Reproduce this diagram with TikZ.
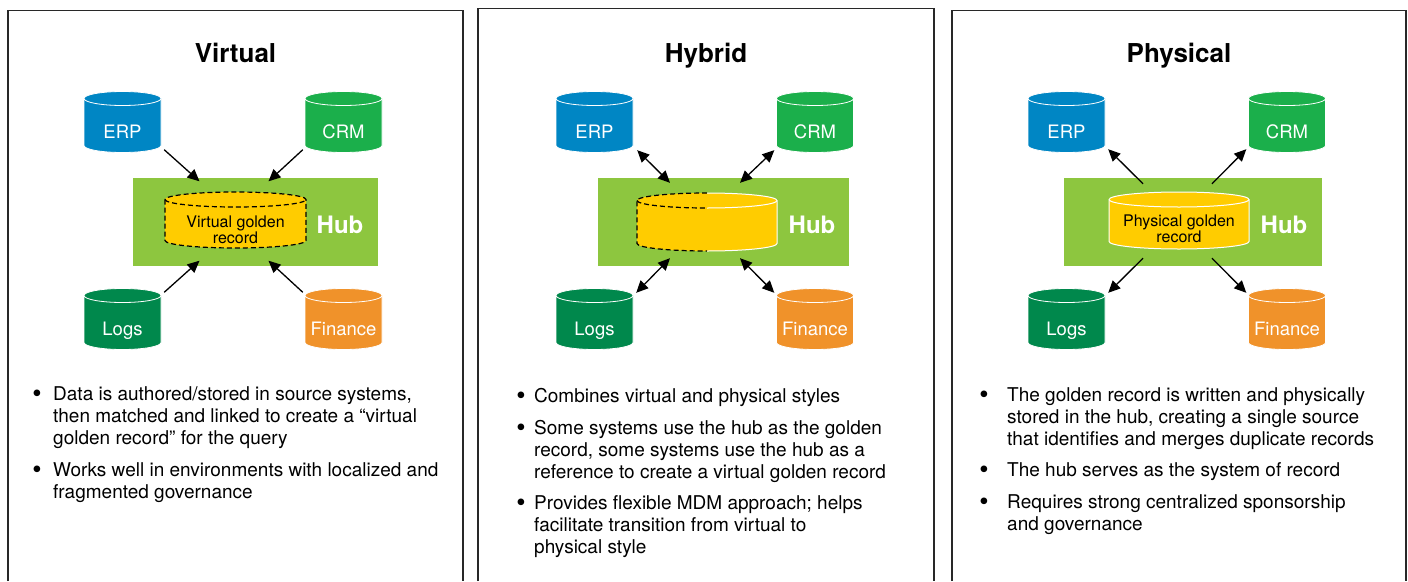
\documentclass[tikz,border=0pt]{standalone}
\usepackage{fontspec}
\setmainfont{TeX Gyre Heros}
\usetikzlibrary{arrows.meta,calc}
\definecolor{erpblue}{RGB}{0,134,196}
\definecolor{crmgreen}{RGB}{27,175,75}
\definecolor{logsgreen}{RGB}{0,136,76}
\definecolor{finorange}{RGB}{240,146,42}
\definecolor{goldc}{RGB}{255,204,0}
\definecolor{hubgreen}{RGB}{141,198,63}
\definecolor{framec}{RGB}{40,40,40}
% silhouette of an upright cylinder: cx, cy, half width, half height, ellipse radius
\newcommand\cylsil[5]{(#1-#3,#2-#4+#5) -- (#1-#3,#2+#4-#5) arc[start angle=180,end angle=360,x radius=#3pt,y radius=#5pt] -- (#1+#3,#2-#4+#5) arc[start angle=0,end angle=180,x radius=#3pt,y radius=#5pt] -- cycle}
\newcommand\srcdb[5]{%
  \path[fill=#4,draw=white,line width=0.8pt] \cylsil{#2}{#3}{38.5}{30.5}{7};
  \draw[white,line width=0.8pt] (#2-38.5,#3-23.5) arc[start angle=180,end angle=360,x radius=38.5pt,y radius=7pt];
  \node[src] (#1) at (#2,#3) {#5};}
\newcommand\bdot[1]{\llap{\raisebox{-2pt}{\scalebox{1.4}{\textbullet}}\hspace{#1}}\rule{0pt}{15pt}}
\tikzset{
  panel/.style={draw=framec,line width=1.3pt},
  title/.style={anchor=base,font=\fontsize{26}{30}\selectfont\bfseries},
  src/.style={rectangle,inner sep=0pt,minimum width=77pt,minimum height=61pt,text=white,
    font=\fontsize{18.5}{20}\selectfont,text height=33pt,text depth=0pt},
  hubbox/.style={rectangle,fill=hubgreen,inner sep=0pt,minimum height=88pt},
  hublbl/.style={text=white,inner sep=0pt,text depth=0pt,font=\fontsize{24}{28}\selectfont\bfseries},
  goldbox/.style={rectangle,inner sep=0pt,minimum width=140pt,minimum height=57pt},
  goldtxt/.style={align=center,inner sep=0pt,font=\fontsize{16}{15.5}\selectfont},
  dsh/.style={draw=black,line width=1.2pt,dash pattern=on 5pt off 3pt},
  wline/.style={draw=white,line width=1pt},
  arr/.style={line width=1.3pt,-{Triangle[length=12pt,width=11pt]}},
  arrb/.style={line width=1.3pt,{Triangle[length=12pt,width=11pt]}-{Triangle[length=12pt,width=11pt]}},
  bul/.style={anchor=north west,align=left,inner sep=0pt,font=\fontsize{19}{22}\selectfont},
}
\begin{document}
\begin{tikzpicture}[x=1pt,y=-1pt]
\useasboundingbox (0,0) rectangle (1408,581);
% panel frames
\draw[panel] (8,581) |- (463,10.5) -- (463,581);
\draw[panel] (478,581) |- (934,8.5) -- (934,581);
\draw[panel] (952,581) |- (1406,10.5) -- (1406,581);
% titles
\node[title] (t1) at (235.5,62) {Virtual};
\node[title] (t2) at (706,62) {Hybrid};
\node[title] (t3) at (1179,62) {Physical};

% ===== Panel 1 =====
\node[hubbox,minimum width=245pt] (hub1) at (255.5,222) {};
\node[hublbl] (h1) at (340,225) {Hub};
\path[fill=goldc] \cylsil{235.5}{220}{70.5}{28}{7.5};
\draw[dsh] \cylsil{235.5}{220}{70.5}{28}{7.5};
\draw[dsh] (165,199.5) arc[start angle=180,end angle=360,x radius=70.5pt,y radius=7.5pt];
\node[goldbox] (g1) at (235.5,220) {};
\node[goldtxt] (g1t) at (235.5,230) {Virtual golden\\record};
\srcdb{erp1}{122.5}{122}{erpblue}{ERP}
\srcdb{crm1}{343.5}{122}{crmgreen}{CRM}
\srcdb{logs1}{122.5}{319}{logsgreen}{Logs}
\srcdb{fin1}{343.5}{319}{finorange}{Finance}
\draw[arr] ([shift={(3,-3)}]erp1.south east) -- ([shift={(-36,-10)}]g1.north);
\draw[arr] ([shift={(-2,-3)}]crm1.south west) -- ([shift={(33,-10)}]g1.north);
\draw[arr] ([shift={(3,4)}]logs1.north east) -- ([shift={(-36,12)}]g1.south);
\draw[arr] ([shift={(-2,4)}]fin1.north west) -- ([shift={(33,12)}]g1.south);
\node[bul] (b11) at (53,385) {\bdot{11.5pt}Data is authored/stored in source systems,\\then matched and linked to create a “virtual\\golden record” for the query};
\node[bul] (b12) at (53,461) {\bdot{11.5pt}Works well in environments with localized and\\fragmented governance};

% ===== Panel 2 =====
\node[hubbox,minimum width=251pt] (hub2) at (723.5,222) {};
\node[hublbl] (h2) at (812,225) {Hub};
\path[fill=goldc] \cylsil{707}{222}{70}{29}{7.5};
\draw[dsh] (707,193) arc[start angle=90,end angle=180,x radius=70pt,y radius=7.5pt] -- (637,243.5) arc[start angle=180,end angle=270,x radius=70pt,y radius=7.5pt];
\draw[dsh] (637,200.5) arc[start angle=180,end angle=270,x radius=70pt,y radius=7.5pt];
\draw[wline] (707,193) arc[start angle=90,end angle=0,x radius=70pt,y radius=7.5pt] -- (777,243.5) arc[start angle=0,end angle=-90,x radius=70pt,y radius=7.5pt];
\draw[wline] (777,200.5) arc[start angle=0,end angle=-90,x radius=70pt,y radius=7.5pt];
\node[goldbox,minimum height=58pt] (g2) at (707,222) {};
\srcdb{erp2}{594.5}{122}{erpblue}{ERP}
\srcdb{crm2}{815}{122}{crmgreen}{CRM}
\srcdb{logs2}{594.5}{319}{logsgreen}{Logs}
\srcdb{fin2}{815}{319}{finorange}{Finance}
\draw[arrb] ([shift={(4,-2.5)}]erp2.south east) -- ([shift={(-37,-10)}]g2.north);
\draw[arrb] ([shift={(-2,-2.5)}]crm2.south west) -- ([shift={(33,-10)}]g2.north);
\draw[arrb] ([shift={(3,4.5)}]logs2.north east) -- ([shift={(-37,7)}]g2.south);
\draw[arrb] ([shift={(-2,4.5)}]fin2.north west) -- ([shift={(33,7)}]g2.south);
\node[bul] (b21) at (534,387) {\bdot{8.5pt}Combines virtual and physical styles};
\node[bul] (b22) at (534,419.5) {\bdot{8.5pt}Some systems use the hub as the golden\\record, some systems use the hub as a\\reference to create a virtual golden record};
\node[bul] (b23) at (534,494.5) {\bdot{8.5pt}Provides flexible MDM approach; helps\\facilitate transition from virtual to\\physical style};

% ===== Panel 3 =====
\node[hubbox,minimum width=258pt] (hub3) at (1193,222) {};
\node[hublbl] (h3) at (1284,225) {Hub};
\path[fill=goldc,wline] \cylsil{1179}{220.5}{70}{28.5}{7.5};
\draw[wline] (1109,199.5) arc[start angle=180,end angle=360,x radius=70pt,y radius=7.5pt];
\node[goldbox] (g3) at (1179,220.5) {};
\node[goldtxt] (g3t) at (1179,229) {Physical golden\\record};
\srcdb{erp3}{1066.5}{122}{erpblue}{ERP}
\srcdb{crm3}{1287}{122}{crmgreen}{CRM}
\srcdb{logs3}{1066.5}{319}{logsgreen}{Logs}
\srcdb{fin3}{1287}{319}{finorange}{Finance}
\draw[arr] ([shift={(-36,-8)}]g3.north) -- ([shift={(3,-3.5)}]erp3.south east);
\draw[arr] ([shift={(33,-8)}]g3.north) -- ([shift={(-2,-3.5)}]crm3.south west);
\draw[arr] ([shift={(-36,9)}]g3.south) -- ([shift={(3,4.5)}]logs3.north east);
\draw[arr] ([shift={(33,9)}]g3.south) -- ([shift={(-2,4.5)}]fin3.north west);
\node[bul] (b31) at (1007,386) {\bdot{18.5pt}The golden record is written and physically\\stored in the hub, creating a single source\\that identifies and merges duplicate records};
\node[bul] (b32) at (1007,461.5) {\bdot{18.5pt}The hub serves as the system of record};
\node[bul] (b33) at (1007,493.5) {\bdot{18.5pt}Requires strong centralized sponsorship\\and governance};
\end{tikzpicture}
\end{document}
